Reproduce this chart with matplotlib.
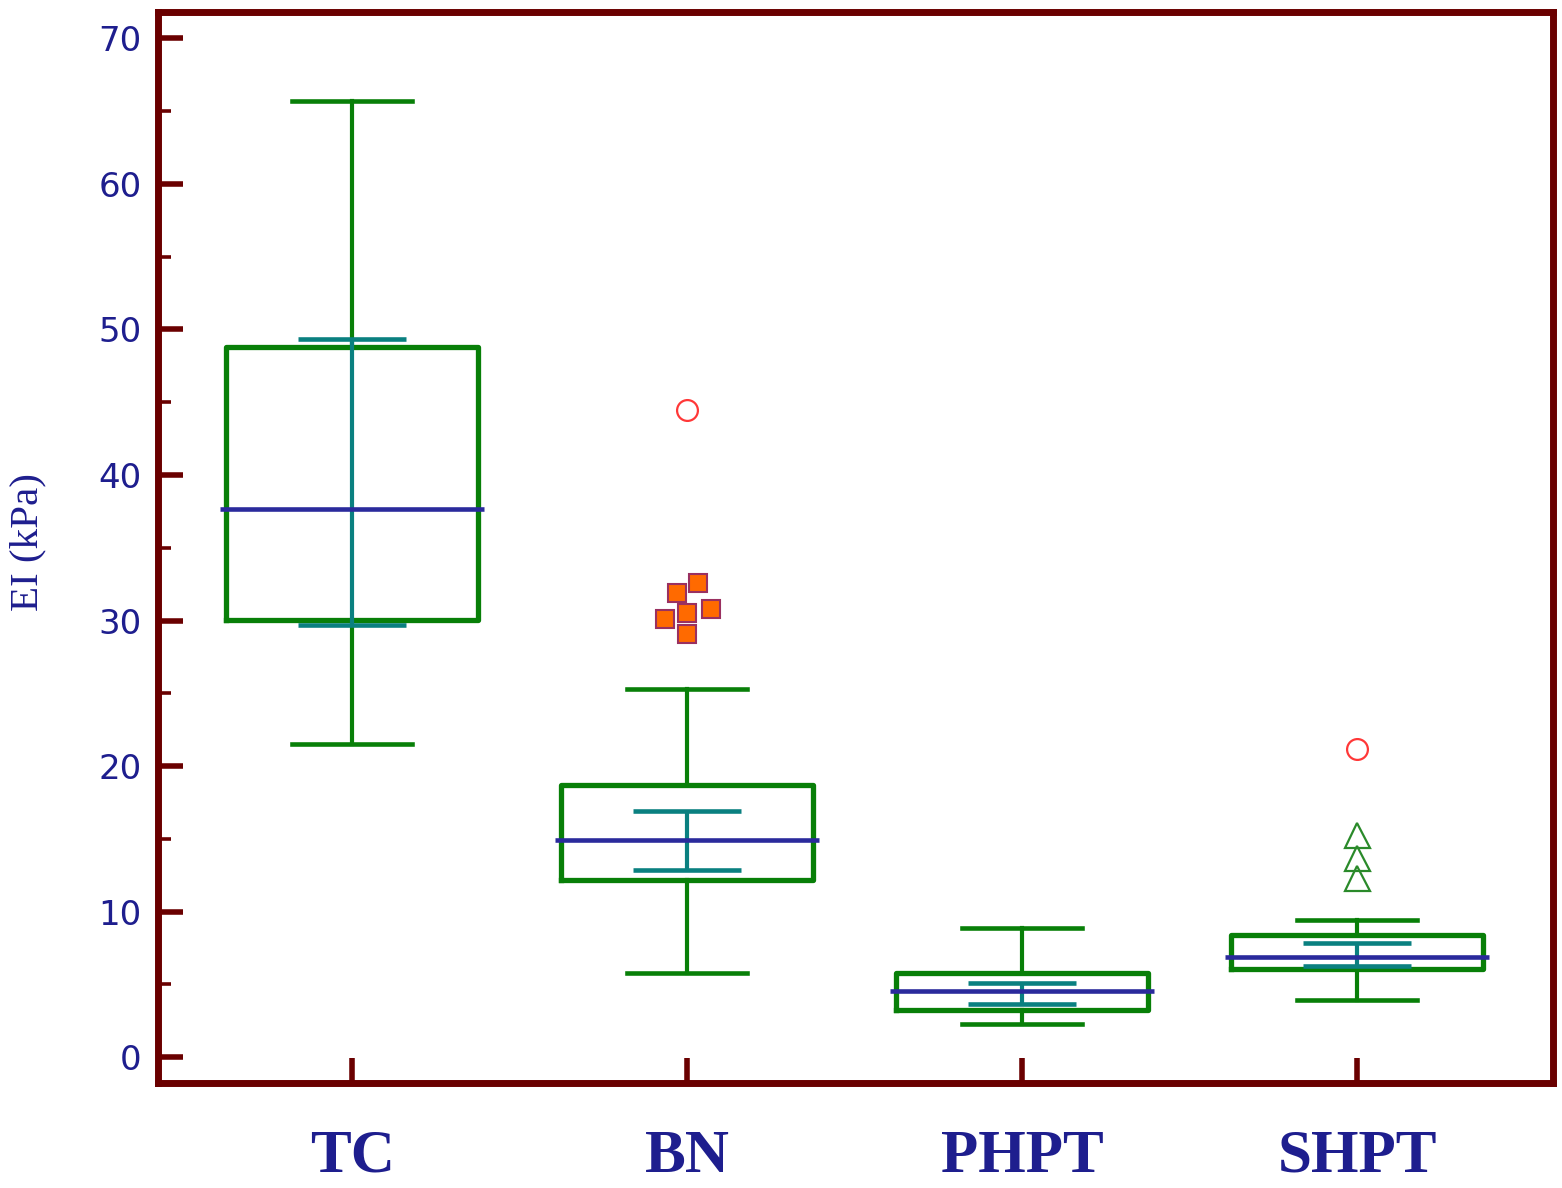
import matplotlib
matplotlib.use('Agg')
import matplotlib.pyplot as plt
import numpy as np

# data --------------------------------------------------------------------
groups = ['TC', 'BN', 'PHPT', 'SHPT']
whisker_lo = [21.5, 5.8, 2.3, 3.9]
q1 = [30.05, 12.2, 3.26, 6.05]
median = [37.65, 14.95, 4.57, 6.92]
q3 = [48.8, 18.72, 5.8, 8.42]
whisker_hi = [65.7, 25.3, 8.86, 9.41]
ci_lo = [29.7, 12.88, 3.68, 6.29]
ci_hi = [49.36, 16.93, 5.12, 7.87]

# outliers (far = circle, near = square / triangle), x offset within the group
far_group = [2, 4]
far_val = [44.5, 21.2]
bn_near_dx = [0.034, -0.031, 0.0, 0.072, -0.067, 0.0]
bn_near_val = [32.6, 31.9, 30.5, 30.8, 30.1, 29.1]
shpt_near_val = [15.3, 13.7, 12.3]

GREEN = '#087F08'
TEAL = '#0A8080'
MEDBLUE = '#2A2A9C'
SPINE = '#6A0000'
TXT = '#1E1E8E'

fig = plt.figure(figsize=(15.62, 11.88), dpi=100)
ax = fig.add_axes([0.10147, 0.08838, 0.8928, 0.9019])

pos = np.arange(1, len(groups) + 1)
stats = []
for i, g in enumerate(groups):
    stats.append(dict(label=g, whislo=whisker_lo[i], q1=q1[i], med=median[i],
                      q3=q3[i], whishi=whisker_hi[i], fliers=[]))

ax.bxp(stats, positions=pos, widths=0.75, capwidths=0.36, showfliers=False,
       boxprops=dict(color=GREEN, linewidth=3.8),
       whiskerprops=dict(color=GREEN, linewidth=3.0),
       capprops=dict(color=GREEN, linewidth=3.3),
       medianprops=dict(visible=False), manage_ticks=False)

# confidence interval of the median
ax.vlines(pos, ci_lo, ci_hi, color=TEAL, linewidth=3.0, zorder=3)
ax.hlines(ci_lo, pos - 0.16, pos + 0.16, color=TEAL, linewidth=3.3, zorder=3)
ax.hlines(ci_hi, pos - 0.16, pos + 0.16, color=TEAL, linewidth=3.3, zorder=3)

# medians
ax.hlines(median, pos - 0.395, pos + 0.395, color=MEDBLUE, linewidth=3.3, zorder=4)

# outliers
ax.plot(far_group, far_val, 'o', ms=15, mfc='white', mec='#FF3838', mew=1.6, zorder=5)
ax.plot(2 + np.array(bn_near_dx), bn_near_val, 's', ms=13.5, mfc='#FF6A00',
        mec='#9A3060', mew=1.5, zorder=5)
ax.plot([4] * len(shpt_near_val), shpt_near_val, '^', ms=18, mfc='none',
        mec='#2A8A2A', mew=1.6, zorder=5)

ax.set_xlim(0.4224, 4.585)
ax.set_ylim(-1.77, 71.84)

ax.set_xticks(pos)
ax.set_xticklabels(groups, fontfamily='Liberation Serif', fontweight='bold',
                   fontsize=44, color=TXT)
ax.set_yticks(np.arange(0, 71, 10))
ax.set_yticks(np.arange(5, 70, 10), minor=True)
for lab in ax.get_yticklabels():
    lab.set_fontfamily('DejaVu Sans')
    lab.set_fontsize(24.5)
    lab.set_color(TXT)

ax.tick_params(axis='y', which='major', direction='in', length=18, width=4,
               color=SPINE, pad=12)
ax.tick_params(axis='y', which='minor', direction='in', length=9.5, width=2.6,
               color=SPINE)
ax.tick_params(axis='x', which='major', direction='in', length=18, width=4,
               color=SPINE, pad=33)

for s in ax.spines.values():
    s.set_color(SPINE)
    s.set_linewidth(5)

ax.set_ylabel('EI (kPa)', fontfamily='Liberation Serif', fontsize=29.5, color=TXT,
              va='center')
ax.yaxis.set_label_coords(-0.0936, 0.5044)

fig.savefig('out.png', dpi=100)
